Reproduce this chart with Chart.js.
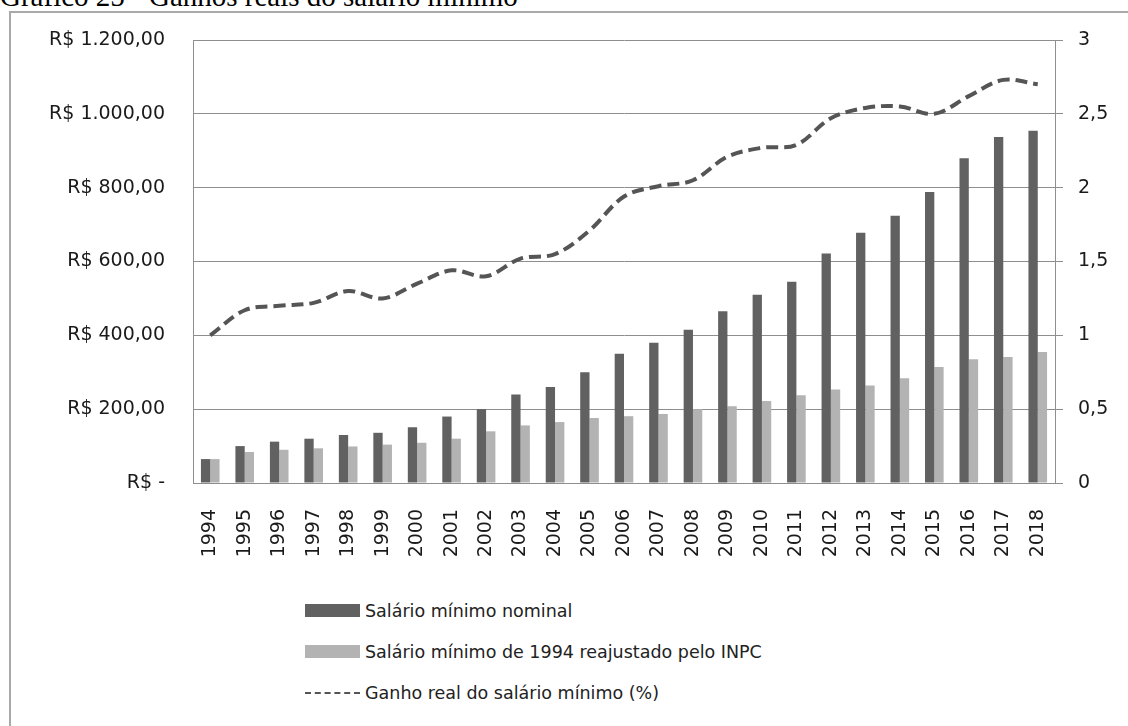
<!DOCTYPE html>
<html lang="pt-BR">
<head>
<meta charset="utf-8">
<script src="https://cdn.jsdelivr.net/npm/chart.js@4.4.1/dist/chart.umd.min.js"></script>
<style>
  html, body { margin: 0; padding: 0; background: #fff; }
  body { width: 1128px; height: 726px; position: relative; overflow: hidden; }
  #titulo { position: absolute; left: 0; top: -18px; font: 29px "Liberation Serif", serif; line-height: 29px; color: #000; white-space: nowrap; }
  #moldura { position: absolute; left: 9px; top: 11px; width: 1200px; height: 800px; border: 2px solid #a9a9a9; background: #fff; }
  #grafico { position: absolute; left: 0; top: 0; }
  #legenda { position: absolute; left: 305px; top: 590px; font: 17.5px "DejaVu Sans", sans-serif; color: #222; }
  .item { height: 41px; display: flex; align-items: center; }
  .caixa { width: 55px; height: 13px; margin-right: 5px; }
  .tracejado { width: 55px; height: 0; border-top: 2px dashed #555; margin-right: 5px; }
</style>
</head>
<body>
<div id="titulo">Gráfico 25 - Ganhos reais do salário mínimo</div>
<div id="moldura"></div>
<canvas id="grafico" width="1128" height="573"></canvas>
<div id="legenda"></div>
<script>
const anos = ["1994","1995","1996","1997","1998","1999","2000","2001","2002","2003","2004","2005","2006",
  "2007","2008","2009","2010","2011","2012","2013","2014","2015","2016","2017","2018"];
const salarioNominal = [64.79, 100, 112, 120, 130, 136, 151, 180, 200, 240, 260, 300, 350,
  380, 415, 465, 510, 545, 622, 678, 724, 788, 880, 937, 954];
const salarioReajustado = [64.79, 84, 90, 94, 99, 104, 109, 120, 140, 156, 165, 176, 181,
  187, 200, 208, 222, 238, 253, 264, 284, 314, 335, 341, 355];
const ganhoReal = [1.00, 1.17, 1.20, 1.22, 1.30, 1.25, 1.35, 1.44, 1.40, 1.52, 1.55, 1.71, 1.94,
  2.01, 2.05, 2.21, 2.27, 2.29, 2.47, 2.54, 2.55, 2.50, 2.62, 2.73, 2.70];
const ticksReais = ["R$ -", "R$ 200,00", "R$ 400,00", "R$ 600,00", "R$ 800,00", "R$ 1.000,00", "R$ 1.200,00"];
const ticksGanho = ["0", "0,5", "1", "1,5", "2", "2,5", "3"];
const rotulos = ["Salário mínimo nominal", "Salário mínimo de 1994 reajustado pelo INPC", "Ganho real do salário mínimo (%)"];

const corGrade = '#8e8e8e';
const fonteEixo = { family: 'DejaVu Sans', size: 19 };

const ctx = document.getElementById('grafico').getContext('2d');
const grafico = new Chart(ctx, {
  type: 'bar',
  data: {
    labels: anos,
    datasets: [
      { label: rotulos[0], data: salarioNominal, backgroundColor: '#616161', yAxisID: 'y', order: 1,
        categoryPercentage: 0.54, barPercentage: 1 },
      { label: rotulos[1], data: salarioReajustado, backgroundColor: '#b3b3b3', yAxisID: 'y', order: 1,
        categoryPercentage: 0.54, barPercentage: 1 },
      { type: 'line', label: rotulos[2], data: ganhoReal, yAxisID: 'y1', order: 0,
        borderColor: '#555555', borderWidth: 4, borderDash: [12, 6], tension: 0.35,
        pointRadius: 0, fill: false }
    ]
  },
  options: {
    responsive: false,
    animation: false,
    layout: { padding: { top: 40, left: 0, right: 0, bottom: 0 } },
    plugins: { legend: { display: false }, tooltip: { enabled: false } },
    scales: {
      x: {
        grid: { display: false },
        border: { display: true, color: corGrade, width: 1 },
        ticks: { autoSkip: false, minRotation: 90, maxRotation: 90, padding: 18, color: '#1a1a1a', font: fonteEixo },
        afterFit: s => { s.height = 90; }
      },
      y: {
        position: 'left', min: 0, max: 1200,
        grid: { color: corGrade, drawTicks: false },
        border: { display: true, color: corGrade },
        ticks: { stepSize: 200, padding: 28, color: '#1a1a1a', font: fonteEixo,
          callback: (v, i) => ticksReais[i] },
        afterFit: s => { s.width = 193; }
      },
      y1: {
        position: 'right', min: 0, max: 3,
        grid: { drawOnChartArea: false, drawTicks: true, tickLength: 8, color: corGrade },
        border: { display: true, color: corGrade },
        ticks: { stepSize: 0.5, padding: 15, color: '#1a1a1a', font: fonteEixo,
          callback: (v, i) => ticksGanho[i] },
        afterFit: s => { s.width = 73; }
      }
    }
  }
});

// legenda montada a partir dos datasets
const legenda = document.getElementById('legenda');
grafico.data.datasets.forEach(ds => {
  const item = document.createElement('div');
  item.className = 'item';
  const marca = document.createElement('span');
  if (ds.type === 'line') {
    marca.className = 'tracejado';
  } else {
    marca.className = 'caixa';
    marca.style.background = ds.backgroundColor;
  }
  const texto = document.createElement('span');
  texto.textContent = ds.label;
  item.appendChild(marca);
  item.appendChild(texto);
  legenda.appendChild(item);
});
</script>
</body>
</html>
